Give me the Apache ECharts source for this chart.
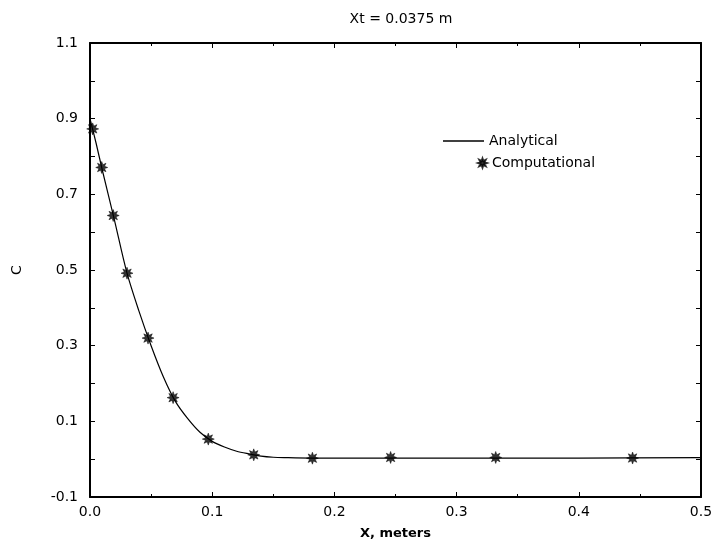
<!DOCTYPE html>
<html>
<head>
<meta charset="utf-8">
<script src="https://cdn.jsdelivr.net/npm/echarts@6/dist/echarts.min.js"></script>
<style>
  html, body { margin: 0; padding: 0; background: #fff; }
  #chart { width: 717px; height: 545px; }
</style>
</head>
<body>
<div id="chart"></div>
<script>
// analytical curve
var analyticalX = [0, 0.005, 0.01, 0.02, 0.03, 0.04, 0.05, 0.06, 0.07, 0.08, 0.09, 0.10, 0.11, 0.12, 0.13, 0.14, 0.15, 0.16, 0.18, 0.2, 0.3, 0.4, 0.5];
var analyticalC = [0.90, 0.835, 0.765, 0.632, 0.495, 0.392, 0.30, 0.218, 0.152, 0.107, 0.071, 0.047, 0.032, 0.021, 0.014, 0.008, 0.005, 0.004, 0.003, 0.003, 0.003, 0.003, 0.004];

// computational points
var compX = [0.0022, 0.0096, 0.019, 0.0303, 0.0475, 0.068, 0.0968, 0.134, 0.182, 0.246, 0.332, 0.444];
var compC = [0.873, 0.771, 0.644, 0.4915, 0.320, 0.1626, 0.053, 0.0114, 0.0026, 0.0045, 0.0045, 0.003];

var yLabels = ['-0.1', '0.1', '0.3', '0.5', '0.7', '0.9', '1.1'];

var font = 'DejaVu Sans';

// 8 point star for the computational marks
var starPts = [];
for (var k = 0; k < 16; k++) {
    var r = k % 2 ? 0.5 : 1;
    var a = k * Math.PI / 8 - Math.PI / 2;
    starPts.push((r * Math.cos(a)).toFixed(3) + ' ' + (r * Math.sin(a)).toFixed(3));
}
var star = 'path://M' + starPts.join(' L') + ' Z';

var myChart = echarts.init(document.getElementById('chart'));

var axisCommon = {
    axisLine: { onZero: false, lineStyle: { color: '#000', width: 2 } },
    axisTick: { inside: true, length: 5, lineStyle: { color: '#000', width: 1 } },
    splitLine: { show: false }
};

var option = {
    animation: false,
    backgroundColor: '#fff',
    title: {
        text: 'Xt = 0.0375 m',
        left: 396,
        top: 7,
        textAlign: 'center',
        textStyle: { fontFamily: font, fontSize: 14, fontWeight: 'normal', color: '#000' }
    },
    legend: [{
        data: [{ name: 'Analytical', icon: 'rect' }],
        left: 438,
        top: 129,
        itemWidth: 41,
        itemHeight: 1.3,
        itemGap: 0,
        itemStyle: { color: '#000' },
        textStyle: { fontFamily: font, fontSize: 14, color: '#000' }
    }, {
        data: ['Computational'],
        left: 472,
        top: 151,
        itemWidth: 9,
        itemHeight: 9,
        itemGap: 0,
        textStyle: { fontFamily: font, fontSize: 14, color: '#000' }
    }],
    grid: { left: 90, right: 16, top: 43, bottom: 47 },
    xAxis: [Object.assign({
        type: 'value',
        min: 0,
        max: 0.5,
        interval: 0.1,
        position: 'bottom',
        minorTick: { show: true, splitNumber: 2, length: 3, lineStyle: { color: '#000' } },
        axisLabel: {
            formatter: function (v) { return v.toFixed(1); },
            color: '#000', fontFamily: font, fontSize: 14, margin: 8
        },
        name: 'X, meters',
        nameLocation: 'middle',
        nameGap: 30,
        nameTextStyle: { fontFamily: font, fontSize: 13, fontWeight: 'bold', color: '#000' }
    }, axisCommon), Object.assign({
        type: 'value',
        min: 0,
        max: 0.5,
        interval: 0.1,
        position: 'top',
        minorTick: { show: true, splitNumber: 2, length: 3, lineStyle: { color: '#000' } },
        axisLabel: { show: false }
    }, axisCommon)],
    yAxis: [Object.assign({
        type: 'value',
        min: -0.1,
        max: 1.1,
        interval: 0.1,
        position: 'left',
        axisLabel: {
            formatter: function (v) {
                var s = v.toFixed(1);
                return yLabels.indexOf(s) >= 0 ? s : '';
            },
            color: '#000', fontFamily: font, fontSize: 14, margin: 12
        },
        name: 'C',
        nameLocation: 'middle',
        nameGap: 66,
        nameRotate: 90,
        nameTextStyle: { fontFamily: font, fontSize: 14, color: '#000' }
    }, axisCommon), Object.assign({
        type: 'value',
        min: -0.1,
        max: 1.1,
        interval: 0.1,
        position: 'right',
        axisLabel: { show: false }
    }, axisCommon)],
    series: [{
        name: 'Analytical',
        type: 'line',
        smooth: 0.3,
        symbol: 'none',
        lineStyle: { color: '#000', width: 1.2 },
        itemStyle: { color: '#000' },
        data: analyticalX.map(function (x, i) { return [x, analyticalC[i]]; }),
        z: 2
    }, {
        name: 'Computational',
        type: 'scatter',
        symbol: star,
        symbolSize: 12,
        itemStyle: { color: '#000', borderColor: '#000', borderWidth: 0.6 },
        data: compX.map(function (x, i) { return [x, compC[i]]; }),
        z: 3
    }]
};

myChart.setOption(option);
</script>
</body>
</html>
